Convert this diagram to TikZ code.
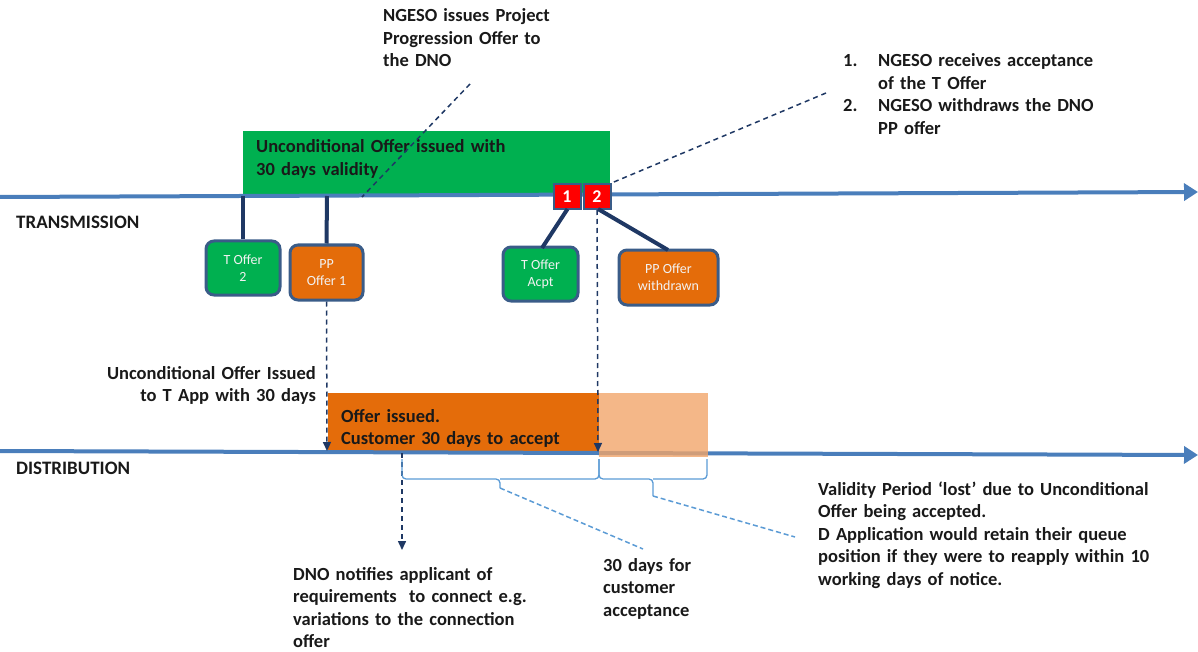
\documentclass[tikz,border=0pt]{standalone}
\usepackage{fontspec}
\setmainfont{Carlito}
\usetikzlibrary{arrows.meta}
\definecolor{axisblue}{HTML}{4A7EBB}
\definecolor{navy}{HTML}{1F3864}
\definecolor{boxedge}{HTML}{3A5C88}
\definecolor{tgreen}{HTML}{00B050}
\definecolor{dorange}{HTML}{E46C0A}
\definecolor{lorange}{HTML}{F1A56A}
\definecolor{lblue}{HTML}{5B9BD5}
\definecolor{boxtext}{HTML}{F2F2F2}
\tikzset{
  axisline/.style={line width=4pt,color=axisblue,-{Triangle[length=14pt,width=17pt]}},
  evbox/.style={rectangle,rounded corners=8pt,draw=boxedge,line width=3pt,text=boxtext,
     font=\fontsize{14}{17}\selectfont,align=center,inner sep=0pt},
  numbox/.style={rectangle,fill=red,draw=boxedge,line width=2pt,text=white,
     font=\fontsize{18}{20}\selectfont\bfseries,minimum width=27pt,minimum height=25pt,inner sep=0pt},
  conn/.style={line width=4pt,color=navy},
  dashdark/.style={dashed,dash pattern=on 5pt off 4pt,line width=1.5pt,color=navy},
  dasharrow/.style={dashdark,-{Triangle[length=9pt,width=8pt]}},
  dashlight/.style={dashed,dash pattern=on 5pt off 3pt,line width=1.5pt,color=lblue},
  bracestyle/.style={line width=1.3pt,color=lblue,rounded corners=4pt},
  lbl/.style={font=\fontsize{18.5}{22.5}\selectfont\bfseries,inner sep=0pt,align=left,text=black!90},
}
\begin{document}
\begin{tikzpicture}[x=1pt,y=-1pt]
\useasboundingbox (0,0) rectangle (1198,652);
% green band
\fill[tgreen] (243,131) rectangle (610,196);
% orange band
\fill[dorange] (328,393) rectangle (599,451);
% axes
\coordinate (tl) at (0,197);
\coordinate (tr) at (1198,192);
\coordinate (dl) at (0,451);
\coordinate (dr) at (1198,455);
\draw[axisline] (tl) -- (tr);
\draw[axisline] (dl) -- (dr);
\fill[lorange,opacity=0.8] (599,393) rectangle (708,457);

% band texts
\node[lbl,anchor=base west,text width=320pt] (gtext) at (256,153) {Unconditional Offer issued with\\30 days validity};
\node[lbl,anchor=base west,text width=260pt] (otext) at (341,422) {Offer issued.\\Customer 30 days to accept};

% axis labels
\node[lbl,anchor=base west,font=\fontsize{19}{20}\selectfont\bfseries] (trans) at (16,229) {TRANSMISSION};
\node[lbl,anchor=base west,font=\fontsize{19}{20}\selectfont\bfseries] (dist) at (16,474) {DISTRIBUTION};

% event boxes
\node[evbox,fill=tgreen,minimum width=74pt,minimum height=54pt] (t2) at (243,268) {T Offer\\2};
\node[evbox,fill=dorange,minimum width=73pt,minimum height=55pt] (pp1) at (326.5,272.5) {PP\\Offer 1};
\node[evbox,fill=tgreen,minimum width=75pt,minimum height=54pt] (tacpt) at (540.5,274) {T Offer\\Acpt};
\node[evbox,fill=dorange,minimum width=99pt,minimum height=55pt] (ppw) at (668.5,277.5) {PP Offer\\withdrawn};

\coordinate (t2a) at (243,196);
\coordinate (pp1a) at (327,196);
\draw[conn] (t2a) -- (t2.north);
\draw[conn] (pp1a) -- (pp1.north);

% numbered boxes
\node[numbox] (n1) at (567,196.5) {1};
\node[numbox] (n2) at (597,196.5) {2};
\coordinate (n1s) at (567.5,209);
\coordinate (n2s) at (598,209);
\coordinate (tacptTop) at (542,248);
\coordinate (ppwTop) at (668,250);
\draw[conn] (n1s) -- (tacptTop);
\draw[conn] (n2s) -- (ppwTop);

% dashed vertical arrows
\coordinate (pp1d) at (327,451);
\coordinate (n2d) at (598,452);
\draw[dasharrow] (pp1.south) -- (pp1d);
\draw[dasharrow] (n2.south) -- (n2d);
\coordinate (dnoA) at (402,453);
\coordinate (dnoB) at (402,550);
\draw[dasharrow] (dnoA) -- (dnoB);

% top callouts
\node[lbl,anchor=base west,text width=220pt] (ngeso) at (383,22) {NGESO issues Project\\Progression Offer to\\the DNO};
\coordinate (c1a) at (470,84);
\coordinate (c1b) at (362,197);
\draw[dashdark] (c1a) -- (c1b);

\node[lbl,anchor=base west,text width=40pt] (num1) at (843,67) {1.};
\node[lbl,anchor=base west,text width=280pt] (item1) at (878,67) {NGESO receives acceptance\\of the T Offer};
\node[lbl,anchor=base west,text width=40pt] (num2) at (843,112) {2.};
\node[lbl,anchor=base west,text width=280pt] (item2) at (878,112) {NGESO withdraws the DNO\\PP offer};
\coordinate (c2a) at (826,93);
\draw[dashdark] (c2a) -- (n2.north east);

% left distribution label
\node[lbl,anchor=base east,text width=280pt,align=right] (uncond) at (316,379) {Unconditional Offer Issued\\to T App with 30 days};

% braces
\coordinate (b1l) at (402,459);
\coordinate (b1m) at (500,479);
\coordinate (b1t) at (500,488);
\coordinate (b1r) at (599,459);
\draw[bracestyle] (b1l) |- (b1m) -- (b1t);
\draw[bracestyle] (b1r) |- (b1m);
\coordinate (b2l) at (599,459);
\coordinate (b2m) at (653,479);
\coordinate (b2t) at (653,496);
\coordinate (b2r) at (707,459);
\draw[bracestyle] (b2l) |- (b2m) -- (b2t);
\draw[bracestyle] (b2r) |- (b2m);

\coordinate (l1e) at (643,549);
\coordinate (l2e) at (795,537);
\draw[dashlight] (b1t) -- (l1e);
\draw[dashlight] (b2t) -- (l2e);

% bottom texts
\node[lbl,anchor=base west,text width=280pt] (dnotext) at (293,580) {DNO notifies applicant of\\requirements\ \ to connect e.g.\\variations to the connection\\offer};
\node[lbl,anchor=base west,text width=130pt] (days) at (603,571) {30 days for\\customer\\acceptance};
\node[lbl,anchor=base west,text width=380pt] (valid) at (818,495) {Validity Period ‘lost’ due to Unconditional\\Offer being accepted.\\D Application would retain their queue\\position if they were to reapply within 10\\working days of notice.};
\end{tikzpicture}
\end{document}
